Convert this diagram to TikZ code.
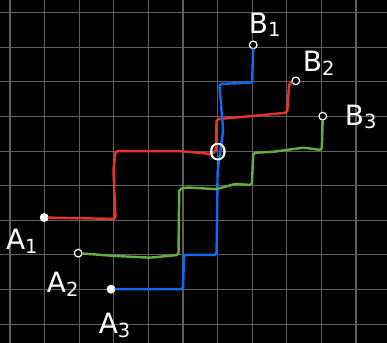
\documentclass[tikz,border=0pt]{standalone}
\usepackage{fontspec}
\setmainfont{DejaVu Sans}
\usetikzlibrary{positioning}
\definecolor{gridgray}{RGB}{95,95,95}
\definecolor{pathred}{RGB}{232,52,38}
\definecolor{pathblue}{RGB}{14,106,245}
\definecolor{pathgreen}{RGB}{98,176,60}
\newcommand{\ptlabel}[2]{#1\raisebox{-0.14em}{\fontsize{16}{16}\selectfont #2}}

\begin{document}
\begin{tikzpicture}[font=\fontsize{23}{25}\selectfont,
      pt/.style={circle, draw=white, line width=1pt, fill=black, inner sep=0pt, minimum size=0.22cm},
      ptfull/.style={pt, fill=white},
      route/.style={line width=2pt, line cap=round, line join=round, rounded corners=1.5pt},
      lbl/.style={text=white, inner sep=0pt, anchor=base west}]
    \fill[black] (-0.289,-9.546) rectangle (10.896,0.367);
    \useasboundingbox (-0.289,-9.546) rectangle (10.896,0.367);
    \draw[gridgray, line width=0.9pt] (-0.289,-9.546) grid (10.896,0.367);

    % start and end points
    \node[ptfull] (A1) at (0.99,-5.92) {};
    \node[pt]     (A2) at (1.97,-6.95) {};
    \node[ptfull] (A3) at (2.92,-7.99) {};
    \node[pt]     (B1) at (7.03,-0.93) {};
    \node[pt]     (B2) at (8.26,-1.97) {};
    \node[pt]     (B3) at (9.04,-2.99) {};

    % routes
    \draw[route, pathred] (A1) -- (3.05,-5.96) -- (2.99,-4.55) -- (3.05,-4.0)
      -- (4.9,-4.0) -- (5.78,-4.08) -- (5.95,-4.02) -- (5.97,-3.08)
      -- (6.94,-2.99) -- (8.01,-2.89) -- (8.07,-2.04) -- (B2);
    \draw[route, pathblue] (A3) -- (5.0,-7.99) -- (5.03,-7.0) -- (5.97,-7.0)
      -- (6.0,-4.6) -- (6.16,-3.4) -- (6.05,-2.06) -- (7.0,-2.02) -- (B1);
    \draw[route, pathgreen] (A2) -- (3.03,-7.03) -- (4.05,-7.08) -- (4.87,-7.0)
      -- (4.89,-5.1) -- (5.11,-5.05) -- (5.97,-5.1) -- (6.5,-4.95) -- (6.99,-4.98)
      -- (7.03,-4.05) -- (7.61,-4.02) -- (8.48,-3.9) -- (9.01,-3.97) -- (B3);

    % labels
    \node[text=white, inner sep=0pt, font=\fontsize{19}{19}\selectfont] (O) at (6.01,-4.02) {O};
    \node[lbl] (labB1) at (6.9,-0.587)  {\ptlabel{B}{1}};
    \node[lbl] (labB2) at (8.46,-1.705) {\ptlabel{B}{2}};
    \node[lbl] (labB3) at (9.67,-3.246) {\ptlabel{B}{3}};
    \node[lbl] (labA1) at (-0.12,-6.858) {\ptlabel{A}{1}};
    \node[lbl] (labA2) at (1.06,-8.1)   {\ptlabel{A}{2}};
    \node[lbl] (labA3) at (2.56,-9.28)  {\ptlabel{A}{3}};
  \end{tikzpicture}
\end{document}
